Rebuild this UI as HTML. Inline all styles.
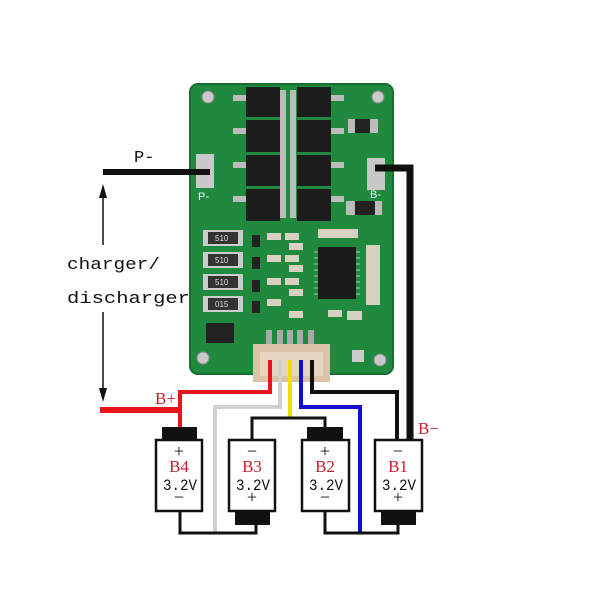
<!DOCTYPE html>
<html><head><style>
html,body{margin:0;padding:0;background:#fff;}
svg{display:block;}
.t{font-family:"Liberation Serif",serif;}
.m{font-family:"Liberation Mono",monospace;}
</style></head><body>
<svg width="600" height="600" viewBox="0 0 600 600" xmlns="http://www.w3.org/2000/svg">
<rect width="600" height="600" fill="#fff"/>
<rect x="190" y="84" width="203" height="290" rx="8" fill="#1f8a3e"/>
<rect x="190" y="84" width="203" height="290" rx="8" fill="none" stroke="#166e30" stroke-width="2"/>
<g fill="#c9c9c9" stroke="#8a8a8a">
<circle cx="208" cy="97" r="6"/><circle cx="378" cy="97" r="6"/>
<circle cx="203" cy="358" r="6"/><circle cx="380" cy="360" r="6"/>
</g>
<rect x="196" y="154" width="18" height="34" fill="#c8c8c8"/>
<rect x="367" y="158" width="18" height="32" fill="#c8c8c8"/>
<text x="198" y="200" font-family="Liberation Sans" font-size="11" fill="#dfe">P-</text>
<text x="370" y="198" font-family="Liberation Sans" font-size="11" fill="#dfe">B-</text>
<g fill="#1c1c1c">
<rect x="246" y="87" width="34" height="30"/><rect x="297" y="87" width="34" height="30"/>
<rect x="246" y="120" width="34" height="32"/><rect x="297" y="120" width="34" height="32"/>
<rect x="246" y="155" width="34" height="31"/><rect x="297" y="155" width="34" height="31"/>
<rect x="246" y="189" width="34" height="32"/><rect x="297" y="189" width="34" height="32"/>
</g>
<g fill="#bbb">
<rect x="280" y="90" width="6" height="128"/><rect x="290" y="90" width="6" height="128"/>
<rect x="233" y="95" width="13" height="6"/><rect x="233" y="128" width="13" height="6"/><rect x="233" y="162" width="13" height="6"/><rect x="233" y="196" width="13" height="6"/>
<rect x="331" y="95" width="13" height="6"/><rect x="331" y="128" width="13" height="6"/><rect x="331" y="162" width="13" height="6"/><rect x="331" y="196" width="13" height="6"/>
<rect x="348" y="119" width="30" height="14"/><rect x="346" y="201" width="36" height="14"/>
</g>
<rect x="355" y="119" width="15" height="14" fill="#222"/><rect x="355" y="201" width="20" height="14" fill="#222"/>
<g fill="#ccc"><rect x="203" y="230" width="40" height="16"/><rect x="203" y="252" width="40" height="16"/><rect x="203" y="274" width="40" height="16"/><rect x="203" y="296" width="40" height="16"/></g>
<g fill="#333"><rect x="208" y="232" width="30" height="12"/><rect x="208" y="254" width="30" height="12"/><rect x="208" y="276" width="30" height="12"/><rect x="208" y="298" width="30" height="12"/></g>
<g font-family="Liberation Sans" font-size="8" fill="#ddd"><text x="215" y="241">510</text><text x="215" y="263">510</text><text x="215" y="285">510</text><text x="215" y="307">015</text></g>
<rect x="206" y="323" width="28" height="20" fill="#222"/>
<g fill="#d8d0c0">
<rect x="267" y="233" width="14" height="7"/><rect x="285" y="233" width="14" height="7"/><rect x="289" y="243" width="14" height="7"/>
<rect x="267" y="255" width="14" height="7"/><rect x="285" y="255" width="14" height="7"/><rect x="289" y="265" width="14" height="7"/>
<rect x="267" y="278" width="14" height="7"/><rect x="285" y="278" width="14" height="7"/><rect x="289" y="289" width="14" height="7"/>
<rect x="267" y="299" width="14" height="7"/><rect x="289" y="311" width="14" height="7"/><rect x="328" y="310" width="14" height="7"/>
<rect x="318" y="229" width="40" height="9"/><rect x="366" y="245" width="14" height="60"/><rect x="347" y="311" width="15" height="9"/>
</g>
<g fill="#222"><rect x="252" y="235" width="8" height="12"/><rect x="252" y="257" width="8" height="12"/><rect x="252" y="280" width="8" height="12"/><rect x="252" y="301" width="8" height="12"/></g>
<rect x="318" y="247" width="38" height="52" fill="#1a1a1a"/>
<g stroke="#bbb" stroke-width="1">
<line x1="314" y1="252" x2="318" y2="252"/><line x1="314" y1="258" x2="318" y2="258"/><line x1="314" y1="264" x2="318" y2="264"/><line x1="314" y1="270" x2="318" y2="270"/><line x1="314" y1="276" x2="318" y2="276"/><line x1="314" y1="282" x2="318" y2="282"/><line x1="314" y1="288" x2="318" y2="288"/><line x1="314" y1="294" x2="318" y2="294"/>
<line x1="356" y1="252" x2="360" y2="252"/><line x1="356" y1="258" x2="360" y2="258"/><line x1="356" y1="264" x2="360" y2="264"/><line x1="356" y1="270" x2="360" y2="270"/><line x1="356" y1="276" x2="360" y2="276"/><line x1="356" y1="282" x2="360" y2="282"/><line x1="356" y1="288" x2="360" y2="288"/><line x1="356" y1="294" x2="360" y2="294"/>
</g>
<g fill="#aaa"><rect x="266" y="330" width="6" height="16"/><rect x="277" y="330" width="6" height="16"/><rect x="287" y="330" width="6" height="16"/><rect x="297" y="330" width="6" height="16"/><rect x="308" y="330" width="6" height="16"/></g>
<rect x="352" y="350" width="12" height="12" fill="#ccc"/>
<rect x="253" y="344" width="77" height="38" fill="#d9c4a8"/>
<rect x="260" y="352" width="63" height="24" fill="#e6d6bf"/>
<g fill="none" stroke-linejoin="miter">
<polyline points="270,360 270,392 180,392 180,428" stroke="#e8141c" stroke-width="4"/>
<line x1="100" y1="410" x2="182" y2="410" stroke="#e8141c" stroke-width="6"/>
<polyline points="280,360 280,407 215,407 215,533" stroke="#d0d0d0" stroke-width="4"/>
<polyline points="290,360 290,418" stroke="#f0e000" stroke-width="4"/>
<polyline points="252,440 252,418 325,418 325,428" stroke="#111" stroke-width="3"/>
<polyline points="301,360 301,407 360,407 360,533" stroke="#1010d0" stroke-width="4"/>
<polyline points="312,360 312,392 397,392 397,440" stroke="#111" stroke-width="4"/>
<polyline points="375,168 410,168 410,440" stroke="#111" stroke-width="7"/>
<polyline points="180,512 180,533 256,533 256,524" stroke="#111" stroke-width="3"/>
<polyline points="325,512 325,533 398,533 398,524" stroke="#111" stroke-width="3"/>
<line x1="103" y1="172" x2="210" y2="172" stroke="#111" stroke-width="6"/>
<line x1="103" y1="195" x2="103" y2="245" stroke="#111" stroke-width="1.5"/>
<line x1="103" y1="312" x2="103" y2="392" stroke="#111" stroke-width="1.5"/>
</g>
<polygon points="103,184 99,198 107,198" fill="#111"/>
<polygon points="103,402 99,388 107,388" fill="#111"/>
<g fill="#111">
<rect x="162" y="427" width="35" height="14"/>
<rect x="235" y="511" width="35" height="14"/>
<rect x="307" y="427" width="36" height="14"/>
<rect x="381" y="511" width="35" height="14"/>
</g>
<g fill="#fff" stroke="#111" stroke-width="2.5">
<rect x="156" y="440" width="46" height="71"/>
<rect x="229" y="440" width="46" height="71"/>
<rect x="302" y="440" width="47" height="71"/>
<rect x="375" y="440" width="47" height="71"/>
</g>
<g class="t" font-size="18" text-anchor="middle" fill="#111">
<text x="179" y="457">+</text><text x="179" y="503">−</text>
<text x="252" y="457">−</text><text x="252" y="503">+</text>
<text x="325" y="457">+</text><text x="325" y="503">−</text>
<text x="398" y="457">−</text><text x="398" y="503">+</text>
</g>
<g class="m" font-size="16" fill="#111">
<text x="163" y="490" textLength="34" lengthAdjust="spacingAndGlyphs">3.2V</text>
<text x="236" y="490" textLength="34" lengthAdjust="spacingAndGlyphs">3.2V</text>
<text x="309" y="490" textLength="34" lengthAdjust="spacingAndGlyphs">3.2V</text>
<text x="382" y="490" textLength="34" lengthAdjust="spacingAndGlyphs">3.2V</text>
</g>
<g class="t" font-size="17" text-anchor="middle" fill="#c8202a">
<text x="179" y="472">B4</text><text x="252" y="472">B3</text><text x="325" y="472">B2</text><text x="398" y="472">B1</text>
</g>
<text class="t" x="155" y="404" font-size="17" fill="#c8202a">B+</text>
<text class="t" x="418" y="434" font-size="17" fill="#c8202a">B−</text>
<text class="m" x="134" y="162" font-size="17" fill="#111">P-</text>
<text class="m" x="67" y="269" font-size="17" fill="#111" textLength="93" lengthAdjust="spacingAndGlyphs">charger/</text>
<text class="m" x="67" y="303" font-size="17" fill="#111" textLength="123" lengthAdjust="spacingAndGlyphs">discharger</text>
</svg>
</body></html>
